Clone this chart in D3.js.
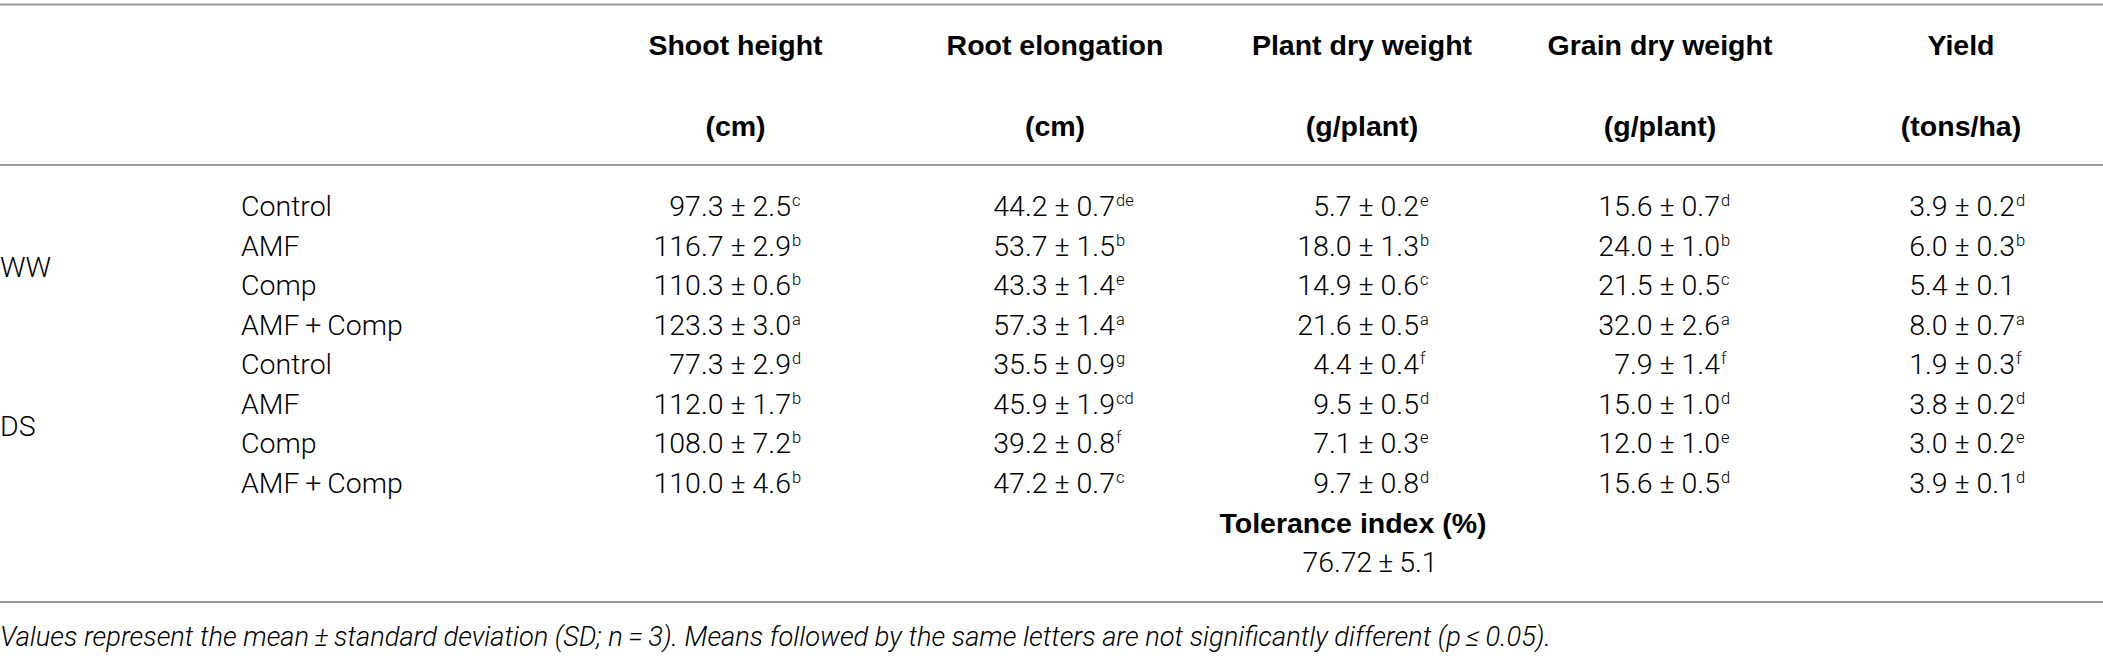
<!DOCTYPE html>
<html>
<head>
<meta charset="utf-8">
<script src="https://cdn.jsdelivr.net/npm/d3@7/dist/d3.min.js"></script>
<style>
  html, body { margin: 0; padding: 0; background: #fff; }
  svg { display: block; }
</style>
</head>
<body>
<svg id="chart" width="2103" height="659"></svg>
<script>
// ---------- data ----------
const groups = ["WW", "DS"];
const treatments = ["Control", "AMF", "Comp", "AMF\u2009+\u2009Comp"];
const headerLine1 = ["Shoot height", "Root elongation", "Plant dry weight", "Grain dry weight", "Yield"];
const headerLine2 = ["(cm)", "(cm)", "(g/plant)", "(g/plant)", "(tons/ha)"];

const shootMean = [97.3, 116.7, 110.3, 123.3, 77.3, 112.0, 108.0, 110.0];
const shootSD   = [2.5, 2.9, 0.6, 3.0, 2.9, 1.7, 7.2, 4.6];
const shootLet  = ["c", "b", "b", "a", "d", "b", "b", "b"];

const rootMean = [44.2, 53.7, 43.3, 57.3, 35.5, 45.9, 39.2, 47.2];
const rootSD   = [0.7, 1.5, 1.4, 1.4, 0.9, 1.9, 0.8, 0.7];
const rootLet  = ["de", "b", "e", "a", "g", "cd", "f", "c"];

const plantMean = [5.7, 18.0, 14.9, 21.6, 4.4, 9.5, 7.1, 9.7];
const plantSD   = [0.2, 1.3, 0.6, 0.5, 0.4, 0.5, 0.3, 0.8];
const plantLet  = ["e", "b", "c", "a", "f", "d", "e", "d"];

const grainMean = [15.6, 24.0, 21.5, 32.0, 7.9, 15.0, 12.0, 15.6];
const grainSD   = [0.7, 1.0, 0.5, 2.6, 1.4, 1.0, 1.0, 0.5];
const grainLet  = ["d", "b", "c", "a", "f", "d", "e", "d"];

const yieldMean = [3.9, 6.0, 5.4, 8.0, 1.9, 3.8, 3.0, 3.9];
const yieldSD   = [0.2, 0.3, 0.1, 0.7, 0.3, 0.2, 0.2, 0.1];
const yieldLet  = ["d", "b", "", "a", "f", "d", "e", "d"];

const toleranceLabel = "Tolerance index (%)";
const toleranceMean = 76.72;
const toleranceSD = 5.1;

const footnote = "Values represent the mean\u2009\u00b1\u2009standard deviation (SD; n\u2009=\u20093). Means followed by the same letters are not significantly different (p\u2009\u2264\u20090.05).";

// ---------- layout ----------
const W = 2103, H = 659;
const svg = d3.select("#chart");
const regular = "Roboto, 'Liberation Sans', Arial, sans-serif";
const bold = "'Liberation Sans', Arial, sans-serif";
const fs = 28.5;

const columns = [
  {mean: shootMean, sd: shootSD, let: shootLet},
  {mean: rootMean, sd: rootSD, let: rootLet},
  {mean: plantMean, sd: plantSD, let: plantLet},
  {mean: grainMean, sd: grainSD, let: grainLet},
  {mean: yieldMean, sd: yieldSD, let: yieldLet}
];

const colIdx = d3.range(columns.length);
const headerX = d3.scaleOrdinal().domain(colIdx).range([735.5, 1055, 1362, 1660, 1961]);
const valueEndX = d3.scaleOrdinal().domain(colIdx).range([791, 1115, 1419, 1720, 2015]);

const nRows = groups.length * treatments.length;
const rowY = d3.scaleLinear().domain([0, nRows - 1]).range([216, 493]);
const step = rowY(1) - rowY(0);

// rules
const rules = [4.5, 165, 602];
svg.selectAll("line.rule").data(rules).join("line")
  .attr("class", "rule")
  .attr("x1", 0).attr("x2", W)
  .attr("y1", d => d).attr("y2", d => d)
  .attr("stroke", "#9b9b9b").attr("stroke-width", 2);

// headers
svg.selectAll("text.h1").data(headerLine1).join("text")
  .attr("class", "h1")
  .attr("x", (d, i) => headerX(i)).attr("y", 55)
  .attr("text-anchor", "middle")
  .attr("font-family", bold).attr("font-weight", 700).attr("font-size", fs)
  .attr("fill", "#000").text(d => d);
svg.selectAll("text.h2").data(headerLine2).join("text")
  .attr("class", "h2")
  .attr("x", (d, i) => headerX(i)).attr("y", 136)
  .attr("text-anchor", "middle")
  .attr("font-family", bold).attr("font-weight", 700).attr("font-size", fs)
  .attr("fill", "#000").text(d => d);

// group labels
svg.selectAll("text.grp").data(groups).join("text")
  .attr("class", "grp")
  .attr("x", 0).attr("y", (d, g) => rowY(g * treatments.length + 1.5) + 2)
  .attr("font-family", regular).attr("font-weight", 300).attr("font-size", fs)
  .attr("fill", "#000").text(d => d);

// treatments
const rows = d3.range(nRows).map(r => ({r, name: treatments[r % treatments.length]}));
svg.selectAll("text.trt").data(rows).join("text")
  .attr("class", "trt")
  .attr("x", 241).attr("y", d => rowY(d.r))
  .attr("font-family", regular).attr("font-weight", 300).attr("font-size", fs)
  .attr("fill", "#000").text(d => d.name);

// values
const fmt = d3.format(".1f");
const cells = [];
columns.forEach((c, ci) => c.mean.forEach((m, r) => cells.push({ci, r, m, sd: c.sd[r], l: c.let[r]})));

svg.selectAll("text.val").data(cells).join("text")
  .attr("class", "val")
  .attr("x", d => valueEndX(d.ci)).attr("y", d => rowY(d.r))
  .attr("text-anchor", "end")
  .attr("font-family", regular).attr("font-weight", 300).attr("font-size", fs)
  .attr("fill", "#000")
  .text(d => `${fmt(d.m)} \u00b1 ${fmt(d.sd)}`);

svg.selectAll("text.sup").data(cells.filter(d => d.l)).join("text")
  .attr("class", "sup")
  .attr("x", d => valueEndX(d.ci) + 1).attr("y", d => rowY(d.r) - 10)
  .attr("font-family", regular).attr("font-weight", 300).attr("font-size", 16.5)
  .attr("fill", "#000").text(d => d.l);

// tolerance index
const tolY = rowY(nRows - 1) + step;
svg.append("text")
  .attr("x", 1353).attr("y", tolY)
  .attr("text-anchor", "middle")
  .attr("font-family", bold).attr("font-weight", 700).attr("font-size", fs)
  .attr("fill", "#000").text(toleranceLabel);
svg.append("text")
  .attr("x", 1370).attr("y", tolY + step)
  .attr("text-anchor", "middle")
  .attr("font-family", regular).attr("font-weight", 300).attr("font-size", fs)
  .attr("fill", "#000").text(`${toleranceMean.toFixed(2)}\u2009\u00b1\u2009${toleranceSD.toFixed(1)}`);

// footnote
const fn = svg.append("text")
  .attr("x", 0).attr("y", 646)
  .attr("font-family", regular).attr("font-weight", 300).attr("font-style", "italic")
  .attr("font-size", 26).attr("fill", "#000").text(footnote);
const targetW = 1551;
const len = fn.node().getComputedTextLength();
if (len > 0) fn.attr("font-size", 26 * targetW / len);
</script>
</body>
</html>
